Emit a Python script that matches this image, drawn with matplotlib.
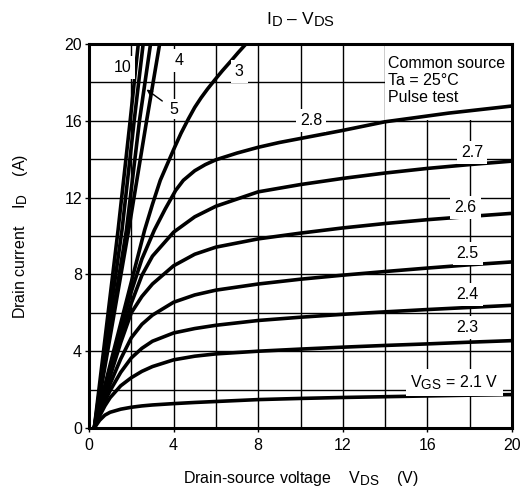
import matplotlib
matplotlib.use("Agg")
import matplotlib.pyplot as plt
import matplotlib._mathtext as mtext
from matplotlib.patches import Rectangle

plt.rcParams['font.family'] = ['Liberation Sans', 'DejaVu Sans']
plt.rcParams['mathtext.fontset'] = 'custom'
plt.rcParams['mathtext.rm'] = 'Liberation Sans'
plt.rcParams['mathtext.it'] = 'Liberation Sans'
plt.rcParams['font.size'] = 11.5
# datasheet style subscripts are nearly full size
mtext.SHRINK_FACTOR = 0.85

# low gate-voltage family, shared V_DS points (V)
v_low = [0.25, 0.5, 0.75, 1, 1.5, 2, 2.5, 3, 4, 5, 6, 8, 10, 12, 14, 16, 18, 20]
id_21 = [0, 0.4, 0.67, 0.82, 0.98, 1.08, 1.15, 1.2, 1.27, 1.33, 1.38, 1.48, 1.54, 1.59, 1.63, 1.67, 1.71, 1.74]
id_23 = [0, 0.62, 1.15, 1.58, 2.2, 2.62, 2.95, 3.2, 3.55, 3.74, 3.86, 4.0, 4.11, 4.21, 4.3, 4.38, 4.47, 4.55]
id_24 = [0, 0.75, 1.4, 1.95, 2.9, 3.65, 4.15, 4.52, 4.95, 5.18, 5.35, 5.6, 5.77, 5.92, 6.05, 6.17, 6.28, 6.39]
id_25 = [0, 0.85, 1.62, 2.3, 3.6, 4.7, 5.4, 5.88, 6.55, 6.93, 7.18, 7.5, 7.75, 7.96, 8.15, 8.33, 8.5, 8.65]
id_26 = [0, 0.95, 1.85, 2.7, 4.45, 6.0, 6.85, 7.5, 8.45, 9.05, 9.42, 9.85, 10.15, 10.42, 10.65, 10.85, 11.02, 11.18]
id_27 = [0, 0.95, 1.95, 2.85, 4.7, 6.5, 7.95, 8.95, 10.2, 11.0, 11.55, 12.3, 12.68, 13.0, 13.28, 13.52, 13.72, 13.9]

v_28 = [0.25, 0.5, 1, 1.5, 2, 2.5, 3.09, 3.6, 4.1, 4.46, 5, 5.5, 6, 7, 8, 9, 10, 12, 14, 17, 20]
id_28 = [0, 1.1, 3.15, 5.15, 7.1, 8.8, 10.31, 11.4, 12.38, 12.9, 13.4, 13.72, 13.97, 14.32, 14.62, 14.87, 15.08, 15.5, 15.95, 16.4, 16.77]

v_3 = [0.25, 0.5, 1, 1.5, 2, 2.63, 3.0, 3.37, 4.0, 4.35, 4.7, 5.0, 5.3, 5.6, 5.94, 6.3, 6.7, 7.05, 7.42]
id_3 = [0, 1.1, 3.3, 5.45, 7.6, 10.31, 11.65, 12.9, 14.5, 15.35, 16.1, 16.7, 17.2, 17.65, 18.12, 18.6, 19.1, 19.55, 20.0]

# steep (ohmic) lines
id_steep = [0, 10.31, 16.04, 20]
v_4 = [0.25, 1.875, 2.73, 3.34]
v_5 = [0.25, 1.77, 2.39, 2.91]
v_6 = [0.25, 1.56, 2.14, 2.56]
v_10 = [0.25, 1.375, 1.95, 2.33]

curves = [
    (v_low, id_21), (v_low, id_23), (v_low, id_24), (v_low, id_25),
    (v_low, id_26), (v_low, id_27), (v_28, id_28), (v_3, id_3),
    (v_4, id_steep), (v_5, id_steep), (v_6, id_steep), (v_10, id_steep),
]

# curve labels: text, x, y
labels = [
    ('2.3', 17.9, 5.25), ('2.4', 17.9, 6.96), ('2.5', 17.9, 9.1),
    ('2.6', 17.8, 11.5), ('2.7', 18.1, 14.37), ('2.8', 10.5, 16.0),
    ('3', 7.1, 18.56), ('4', 4.25, 19.15), ('10', 1.58, 18.8),
]

fig = plt.figure(figsize=(5.3, 5.01), dpi=100)
ax = fig.add_axes([89/530, 1-428/501, 423/530, 384/501])

ax.set_xlim(0, 20)
ax.set_ylim(0, 20)
ax.set_xticks(range(0, 21, 4))
ax.set_yticks(range(0, 21, 4))
ax.set_xticks(range(2, 20, 4), minor=True)
ax.set_yticks(range(2, 20, 4), minor=True)
ax.tick_params(which='major', direction='out', length=3, width=1, pad=2)
ax.tick_params(axis='x', which='major', pad=4)
ax.tick_params(which='minor', length=0)
ax.grid(which='both', color='black', linewidth=1.0)
ax.set_axisbelow(True)
for s in ax.spines.values():
    s.set_linewidth(2.2)
    s.set_zorder(5)

# blank area behind the conditions note
ax.add_patch(Rectangle((14, 16.05), 6, 3.95, facecolor='white', edgecolor='none', zorder=1))
ax.text(14.15, 18.1, 'Common source\nTa = 25°C\nPulse test', va='center', ha='left',
        linespacing=1.15, zorder=4)

for v, i in curves:
    ax.plot(v, i, color='black', linewidth=2.6, solid_joinstyle='round', zorder=3)

box = dict(boxstyle='square,pad=0.25', facecolor='white', edgecolor='none')
for t, x, y in labels:
    ax.text(x, y, t, ha='center', va='center', bbox=box, zorder=4)
ax.text(17.27, 2.38, r'$\mathrm{V_{GS}}$ = 2.1 V', ha='center', va='center', bbox=box, zorder=4)
ax.annotate('5', xy=(2.72, 17.63), xytext=(4.0, 16.6), ha='center', va='center',
            bbox=dict(boxstyle='square,pad=0.15', facecolor='white', edgecolor='none'),
            arrowprops=dict(arrowstyle='-|>', color='black', lw=1.0, mutation_scale=8,
                            shrinkA=4, shrinkB=0), zorder=4)

ax.set_title(r'$\mathrm{I_D}$ – $\mathrm{V_{DS}}$', fontsize=12.5, pad=14)
ax.set_xlabel(r'Drain-source voltage    $\mathrm{V_{DS}}$    (V)', labelpad=12)
ax.set_ylabel(r'Drain current    $\mathrm{I_D}$    (A)', labelpad=25)

fig.savefig('out.png', dpi=100)
